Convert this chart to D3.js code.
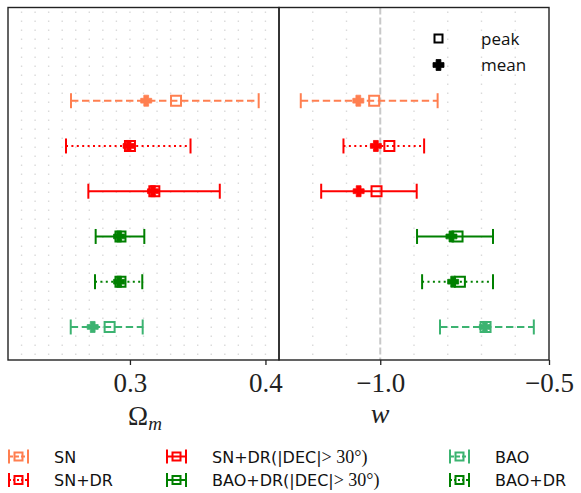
<!DOCTYPE html>
<html>
<head>
<meta charset="utf-8">
<script src="https://cdn.jsdelivr.net/npm/d3@7"></script>
<style>
  html, body { margin: 0; padding: 0; background: #fff; }
  svg { display: block; }
</style>
</head>
<body>
<div class="js-canvas"></div>
<script>
'use strict';

// rows, top to bottom
const datasets = ['SN', 'SN+DR', 'SN+DR(|DEC|> 30°)', 'BAO+DR(|DEC|> 30°)', 'BAO+DR', 'BAO'];
const rowPos = [6, 5, 4, 3, 2, 1];

// Omega_m
const omPeak = [0.334, 0.300, 0.318, 0.293, 0.293, 0.285];
const omMean = [0.312, 0.299, 0.317, 0.292, 0.292, 0.2725];
const omLow  = [0.2565, 0.2528, 0.2693, 0.2747, 0.2742, 0.2563];
const omHigh = [0.395, 0.3447, 0.3663, 0.3106, 0.3091, 0.3094];

// w
const wPeak = [-1.018, -0.973, -1.011, -0.771, -0.764, -0.688];
const wMean = [-1.065, -1.013, -1.064, -0.789, -0.784, -0.690];
const wLow  = [-1.2355, -1.109, -1.175, -0.891, -0.876, -0.823];
const wHigh = [-0.830, -0.870, -0.892, -0.666, -0.666, -0.545];

const omTicks = [0.3, 0.4];
const wTicks = [-1.0, -0.5];
const legendOrder = ['SN', 'SN+DR', 'SN+DR(|DEC|> 30°)', 'BAO+DR(|DEC|> 30°)', 'BAO', 'BAO+DR'];

const style = {
    'SN': { color: '#ff7f50', dash: '7.4,3.6' },
    'SN+DR': { color: '#ff0000', dash: '2,3.4' },
    'SN+DR(|DEC|> 30°)': { color: '#ff0000', dash: null },
    'BAO+DR(|DEC|> 30°)': { color: '#008000', dash: null },
    'BAO+DR': { color: '#008000', dash: '2,3.4' },
    'BAO': { color: '#3cb371', dash: '7.4,3.6' }
};

const config = {
    width: 581,
    height: 493,
    top: 7.5,
    bottom: 360,
    left: 8,
    mid: 279,
    right: 549,
    cap: 7.5
};

const svg = d3.select('.js-canvas')
    .append('svg')
    .attr('width', config.width)
    .attr('height', config.height);

const y = d3.scaleLinear()
    .domain([8.06, 0.27])
    .range([config.top, config.bottom]);

const xOm = d3.scaleLinear()
    .domain([0.21, 0.41])
    .range([config.left, config.mid]);

const xW = d3.scaleLinear()
    .domain([-1.3, -0.5])
    .range([config.mid, config.right]);

const squareSym = d3.symbol(d3.symbolSquare, 100)();
// thick "filled plus" marker
const plusPath = (a, t) => {
    const p = d3.path();
    p.moveTo(-t, -a); p.lineTo(t, -a); p.lineTo(t, -t); p.lineTo(a, -t);
    p.lineTo(a, t); p.lineTo(t, t); p.lineTo(t, a); p.lineTo(-t, a);
    p.lineTo(-t, t); p.lineTo(-a, t); p.lineTo(-a, -t); p.lineTo(-t, -t);
    p.closePath();
    return p.toString();
};
const crossSym = plusPath(5.5, 2.4);

// grid lines
const gridOm = d3.range(22, 41).map(d => d / 100);
const gridW = [-1.2, -1.1, -0.9, -0.8, -0.7, -0.6];

svg.append('g').selectAll('line')
    .data(gridOm)
    .join('line')
    .attr('x1', d => xOm(d)).attr('x2', d => xOm(d))
    .attr('y1', config.top + 4).attr('y2', config.bottom)
    .attr('stroke', '#dadada')
    .attr('stroke-width', 1.4)
    .attr('stroke-dasharray', '1.4,7.6');

svg.append('g').selectAll('line')
    .data(gridW)
    .join('line')
    .attr('x1', d => xW(d)).attr('x2', d => xW(d))
    .attr('y1', config.top + 4).attr('y2', config.bottom)
    .attr('stroke', '#dadada')
    .attr('stroke-width', 1.4)
    .attr('stroke-dasharray', '1.4,7.6');

// w = -1 reference
svg.append('line')
    .attr('x1', xW(-1)).attr('x2', xW(-1))
    .attr('y1', config.top).attr('y2', config.bottom)
    .attr('stroke', '#c8c8c8')
    .attr('stroke-width', 2)
    .attr('stroke-dasharray', '7,3');

const drawPanel = (x, low, high, peak, mean) => {
    const g = svg.append('g');
    datasets.forEach((name, i) => {
        const s = style[name];
        const yy = y(rowPos[i]);
        g.append('line')
            .attr('x1', x(low[i])).attr('x2', x(high[i]))
            .attr('y1', yy).attr('y2', yy)
            .attr('stroke', s.color)
            .attr('stroke-width', 2)
            .attr('stroke-dasharray', s.dash);
        [low[i], high[i]].forEach(v => {
            g.append('line')
                .attr('x1', x(v)).attr('x2', x(v))
                .attr('y1', yy - config.cap).attr('y2', yy + config.cap)
                .attr('stroke', s.color)
                .attr('stroke-width', 2);
        });
        g.append('path')
            .attr('d', crossSym)
            .attr('transform', `translate(${x(mean[i])},${yy})`)
            .attr('fill', s.color)
            .attr('stroke', s.color)
            .attr('stroke-width', 0.8)
            .attr('stroke-linejoin', 'round');
        g.append('path')
            .attr('d', squareSym)
            .attr('transform', `translate(${x(peak[i])},${yy})`)
            .attr('fill', 'none')
            .attr('stroke', s.color)
            .attr('stroke-width', 2);
    });
};

drawPanel(xOm, omLow, omHigh, omPeak, omMean);
drawPanel(xW, wLow, wHigh, wPeak, wMean);

// frames
[[config.left, config.mid], [config.mid, config.right]].forEach(([a, b]) => {
    svg.append('rect')
        .attr('x', a).attr('y', config.top)
        .attr('width', b - a).attr('height', config.bottom - config.top)
        .attr('fill', 'none')
        .attr('stroke', '#222')
        .attr('stroke-width', 1.4);
});

// axes
const fmt = d3.format('.1f');
const axisOm = d3.axisBottom(xOm).tickValues(omTicks).tickSize(5).tickFormat(fmt);
const axisW = d3.axisBottom(xW).tickValues(wTicks).tickSize(5).tickFormat(fmt);

[axisOm, axisW].forEach(ax => {
    const g = svg.append('g')
        .attr('transform', `translate(0, ${config.bottom})`)
        .call(ax);
    g.select('.domain').remove();
    g.selectAll('.tick line').attr('stroke', '#222').attr('stroke-width', 1.3);
    g.selectAll('.tick text')
        .attr('y', 32)
        .attr('dy', 0)
        .attr('fill', '#222')
        .style('font-family', '"Liberation Serif", serif')
        .style('font-size', '27px');
});

// axis titles
const omTitle = svg.append('text')
    .attr('x', 145).attr('y', 425)
    .attr('text-anchor', 'middle')
    .attr('fill', '#222')
    .style('font-family', '"Liberation Serif", serif')
    .style('font-size', '27px');
omTitle.append('tspan').text('Ω');
omTitle.append('tspan').text('m')
    .attr('dy', 5)
    .style('font-size', '19px')
    .style('font-style', 'italic');

svg.append('text')
    .attr('x', 380).attr('y', 423)
    .attr('text-anchor', 'middle')
    .attr('fill', '#222')
    .style('font-family', '"Liberation Serif", serif')
    .style('font-style', 'italic')
    .style('font-size', '28px')
    .text('w');

// peak / mean legend
const markerLegend = svg.append('g');
markerLegend.append('path')
    .attr('d', d3.symbol(d3.symbolSquare, 64)())
    .attr('transform', 'translate(438.5, 38.5)')
    .attr('fill', 'none')
    .attr('stroke', '#000')
    .attr('stroke-width', 2);
markerLegend.append('path')
    .attr('d', crossSym)
    .attr('transform', 'translate(438.5, 65)')
    .attr('fill', '#000')
    .attr('stroke', '#000')
    .attr('stroke-width', 0.8)
    .attr('stroke-linejoin', 'round');
[['peak', 38.5], ['mean', 65]].forEach(([t, yy]) => {
    markerLegend.append('text')
        .attr('x', 481).attr('y', yy + 6)
        .attr('fill', '#111')
        .style('font-family', '"Open Sans", sans-serif')
        .style('font-size', '17px')
        .text(t);
});

// dataset legend
const legCols = [[8, 54], [166, 212], [449, 495]];
const legRows = [456.5, 480];
legendOrder.forEach((name, i) => {
    const [ix, tx] = legCols[Math.floor(i / 2)];
    const yy = legRows[i % 2];
    const s = style[name];
    const g = svg.append('g');
    g.append('line')
        .attr('x1', ix + 1).attr('x2', ix + 20)
        .attr('y1', yy).attr('y2', yy)
        .attr('stroke', s.color).attr('stroke-width', 2)
        .attr('stroke-dasharray', s.dash ? (s.dash.startsWith('2') ? '2,2' : '4,2') : null);
    [ix + 1, ix + 20].forEach(cx => {
        g.append('line')
            .attr('x1', cx).attr('x2', cx)
            .attr('y1', yy - 7).attr('y2', yy + 7)
            .attr('stroke', s.color).attr('stroke-width', 2);
    });
    g.append('path')
        .attr('d', d3.symbol(d3.symbolSquare, 64)())
        .attr('transform', `translate(${ix + 10.5},${yy})`)
        .attr('fill', 'none')
        .attr('stroke', s.color).attr('stroke-width', 2);

    const text = g.append('text')
        .attr('x', tx).attr('y', yy + 6)
        .attr('fill', '#111')
        .style('font-family', '"DejaVu Sans", sans-serif')
        .style('font-size', '16px');
    const cut = name.indexOf('>');
    if (cut < 0) {
        text.text(name);
    } else {
        text.append('tspan').text(name.slice(0, cut));
        text.append('tspan')
            .style('font-family', '"Liberation Serif", serif')
            .style('font-size', '18px')
            .text(name.slice(cut));
    }
});
</script>
</body>
</html>
